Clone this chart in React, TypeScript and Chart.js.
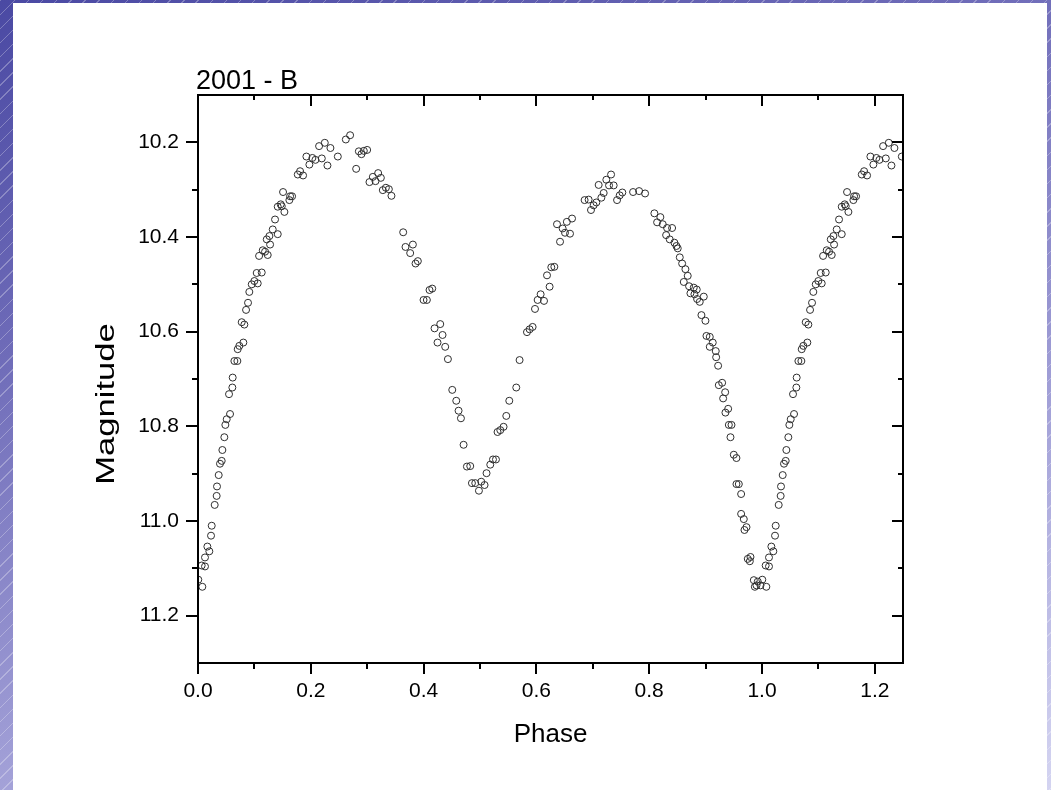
import React, { useEffect, useRef } from "react";
import { Chart, registerables } from "chart.js";

Chart.register(...registerables);

// Phase-folded light curve (phase 0..1); points with phase < 0.25 are repeated at phase + 1
const phase: number[] = [
  0.0005, 0.0077, 0.0065, 0.0124, 0.0124, 0.0166, 0.0201, 0.0231, 0.0243, 0.0296,
  0.0331, 0.0337, 0.0367, 0.039, 0.042, 0.0432, 0.0467, 0.0485, 0.0509, 0.0568,
  0.055, 0.0609, 0.0615, 0.0645, 0.0698, 0.0704, 0.0733, 0.0804, 0.0775, 0.0822,
  0.0852, 0.0887, 0.091, 0.0953, 0.0999, 0.1059, 0.1041, 0.113, 0.1083, 0.1148,
  0.1189, 0.1236, 0.1219, 0.1278, 0.1266, 0.1325, 0.1414, 0.1366, 0.1414, 0.1467,
  0.1485, 0.1532, 0.1508, 0.162, 0.1633, 0.1668, 0.1769, 0.181, 0.1863, 0.1922,
  0.1975, 0.2028, 0.2082, 0.2147, 0.2195, 0.2248, 0.2295, 0.2348, 0.2479, 0.2621,
  0.2697, 0.2804, 0.2852, 0.2898, 0.294, 0.2999, 0.304, 0.31, 0.3147, 0.3194,
  0.3242, 0.3277, 0.3331, 0.3384, 0.343, 0.3638, 0.3679, 0.3762, 0.381, 0.3857,
  0.3898, 0.3999, 0.4058, 0.4105, 0.4153, 0.4194, 0.4295, 0.4247, 0.4336, 0.4383,
  0.4431, 0.4508, 0.4579, 0.462, 0.4662, 0.4709, 0.4768, 0.4827, 0.4857, 0.4916,
  0.4981, 0.5022, 0.5081, 0.5116, 0.5182, 0.523, 0.5283, 0.5311, 0.536, 0.5418,
  0.5466, 0.5519, 0.5643, 0.5702, 0.5833, 0.588, 0.5933, 0.5975, 0.6022, 0.6075,
  0.6135, 0.6234, 0.6188, 0.6264, 0.6318, 0.6419, 0.6365, 0.6465, 0.6507, 0.6596,
  0.654, 0.6632, 0.6855, 0.6926, 0.6968, 0.7015, 0.7063, 0.7152, 0.7104, 0.7193,
  0.724, 0.7288, 0.7324, 0.737, 0.743, 0.7477, 0.7524, 0.7714, 0.7821, 0.7927,
  0.8092, 0.8198, 0.814, 0.824, 0.83, 0.8317, 0.8406, 0.8364, 0.8447, 0.8483,
  0.8506, 0.8542, 0.8584, 0.8642, 0.8683, 0.8613, 0.8707, 0.879, 0.8843, 0.8731,
  0.8802, 0.8849, 0.8896, 0.8968, 0.8926, 0.8997, 0.9015, 0.9074, 0.9127, 0.9074,
  0.918, 0.9187, 0.9222, 0.9234, 0.9293, 0.9347, 0.9311, 0.94, 0.9352, 0.9412,
  0.9459, 0.9441, 0.95, 0.9547, 0.9547, 0.9589, 0.963, 0.963, 0.9677, 0.9725,
  0.9689, 0.9748, 0.9796, 0.9784, 0.9855, 0.9925, 0.9902, 0.9973, 0.9873,
];

const magnitude: number[] = [
  11.124, 11.139, 11.094, 11.096, 11.077, 11.054, 11.064, 11.031, 11.010, 10.966,
  10.947, 10.927, 10.903, 10.879, 10.873, 10.850, 10.823, 10.797, 10.785, 10.774,
  10.732, 10.718, 10.697, 10.662, 10.662, 10.637, 10.630, 10.623, 10.580, 10.585,
  10.554, 10.539, 10.516, 10.500, 10.493, 10.498, 10.476, 10.475, 10.440, 10.428,
  10.431, 10.438, 10.405, 10.416, 10.398, 10.384, 10.394, 10.363, 10.336, 10.331,
  10.335, 10.347, 10.305, 10.322, 10.314, 10.314, 10.268, 10.261, 10.270, 10.230,
  10.247, 10.233, 10.237, 10.208, 10.234, 10.201, 10.249, 10.212, 10.230, 10.194,
  10.185, 10.256, 10.219, 10.225, 10.218, 10.216, 10.284, 10.273, 10.282, 10.265,
  10.275, 10.301, 10.296, 10.299, 10.313, 10.390, 10.421, 10.434, 10.416, 10.456,
  10.451, 10.533, 10.533, 10.512, 10.509, 10.593, 10.584, 10.623, 10.607, 10.632,
  10.658, 10.723, 10.746, 10.767, 10.783, 10.839, 10.885, 10.884, 10.920, 10.920,
  10.936, 10.917, 10.924, 10.899, 10.881, 10.870, 10.870, 10.812, 10.808, 10.801,
  10.778, 10.746, 10.718, 10.660, 10.601, 10.595, 10.590, 10.552, 10.533, 10.521,
  10.535, 10.505, 10.481, 10.464, 10.463, 10.410, 10.373, 10.382, 10.391, 10.393,
  10.368, 10.361, 10.322, 10.321, 10.343, 10.333, 10.327, 10.317, 10.290, 10.307,
  10.279, 10.291, 10.268, 10.291, 10.322, 10.312, 10.306, 10.305, 10.303, 10.308,
  10.350, 10.358, 10.369, 10.373, 10.396, 10.381, 10.381, 10.405, 10.412, 10.419,
  10.424, 10.443, 10.456, 10.468, 10.482, 10.495, 10.504, 10.507, 10.511, 10.519,
  10.521, 10.531, 10.537, 10.526, 10.565, 10.577, 10.609, 10.611, 10.623, 10.632,
  10.641, 10.654, 10.672, 10.713, 10.708, 10.728, 10.741, 10.763, 10.771, 10.797,
  10.797, 10.823, 10.860, 10.867, 10.922, 10.922, 10.943, 10.985, 10.996, 11.013,
  11.019, 11.080, 11.076, 11.085, 11.125, 11.128, 11.136, 11.136, 11.139,
];

const repeatBelow = 0.25;

const xTickLabels: number[] = [0, 0.2, 0.4, 0.6, 0.8, 1.0, 1.2];
const xMinorTicks: number[] = [0.1, 0.3, 0.5, 0.7, 0.9, 1.1];
const yTickLabels: number[] = [10.2, 10.4, 10.6, 10.8, 11.0, 11.2];
const yMinorTicks: number[] = [10.3, 10.5, 10.7, 10.9, 11.1];

const FONT = '"Liberation Sans", Arial, Helvetica, sans-serif';

const framePlugin = {
  id: "originFrame",
  afterDatasetsDraw(chart: any) {
    const { ctx, chartArea: a, scales } = chart;
    const xs = scales.x;
    const ys = scales.y;
    ctx.save();
    ctx.strokeStyle = "#000";
    ctx.lineWidth = 2;
    ctx.lineCap = "butt";
    ctx.strokeRect(a.left, a.top, a.right - a.left, a.bottom - a.top);
    ctx.beginPath();
    const seg = (x1: number, y1: number, x2: number, y2: number) => {
      ctx.moveTo(x1, y1);
      ctx.lineTo(x2, y2);
    };
    for (const v of xTickLabels) {
      const px = Math.round(xs.getPixelForValue(v));
      seg(px, a.bottom, px, a.bottom + 11);
      seg(px, a.top, px, a.top + 11);
    }
    for (const v of xMinorTicks) {
      const px = Math.round(xs.getPixelForValue(v));
      seg(px, a.bottom, px, a.bottom + 6);
      seg(px, a.top, px, a.top + 5);
    }
    for (const v of yTickLabels) {
      const py = Math.round(ys.getPixelForValue(v));
      seg(a.left - 12, py, a.left, py);
      seg(a.right - 11, py, a.right, py);
    }
    for (const v of yMinorTicks) {
      const py = Math.round(ys.getPixelForValue(v));
      seg(a.left - 6, py, a.left, py);
      seg(a.right - 5, py, a.right, py);
    }
    ctx.stroke();

    // graph title
    ctx.fillStyle = "#000";
    ctx.font = `27px ${FONT}`;
    ctx.textAlign = "left";
    ctx.textBaseline = "alphabetic";
    ctx.fillText("2001 - B", a.left - 2, a.top - 6);

    // y-axis title (stretched, as in the reference)
    ctx.save();
    ctx.translate(a.left - 84, 404);
    ctx.rotate(-Math.PI / 2);
    ctx.scale(1.33, 1);
    ctx.font = `26px ${FONT}`;
    ctx.textAlign = "center";
    ctx.textBaseline = "alphabetic";
    ctx.fillText("Magnitude", 0, 0);
    ctx.restore();

    ctx.restore();
  },
};

export default function App() {
  const canvasRef = useRef<HTMLCanvasElement | null>(null);

  useEffect(() => {
    if (!canvasRef.current) return;
    const points = phase.map((p, i) => ({ x: p, y: magnitude[i] }));
    const repeated = phase
      .map((p, i) => ({ x: p + 1, y: magnitude[i], keep: p < repeatBelow }))
      .filter((d) => d.keep)
      .map((d) => ({ x: d.x, y: d.y }));

    const chart = new Chart(canvasRef.current, {
      type: "scatter",
      data: {
        datasets: [
          {
            data: [...points, ...repeated],
            pointStyle: "circle",
            pointRadius: 3.5,
            pointBorderWidth: 1,
            pointBorderColor: "#2e2e2e",
            pointBackgroundColor: "rgba(255,255,255,0)",
            clip: 0,
          } as any,
        ],
      },
      options: {
        animation: false,
        responsive: false,
        devicePixelRatio: 1,
        layout: { padding: { left: 0, right: 148, top: 95, bottom: 0 } },
        plugins: {
          legend: { display: false },
          tooltip: { enabled: false },
          title: { display: false },
        },
        scales: {
          x: {
            type: "linear",
            min: 0,
            max: 1.25,
            grid: { display: false, drawTicks: false },
            border: { display: false },
            afterBuildTicks: (s: any) => {
              s.ticks = xTickLabels.map((v) => ({ value: v }));
            },
            afterFit: (s: any) => {
              s.height = 127;
            },
            ticks: {
              padding: 16,
              color: "#000",
              maxRotation: 0,
              autoSkip: false,
              font: { family: FONT, size: 21 },
              callback: (v: any) => Number(v).toFixed(1),
            },
            title: {
              display: true,
              text: "Phase",
              color: "#000",
              font: { family: FONT, size: 26 },
              padding: { top: 0, bottom: 40 },
            },
          },
          y: {
            type: "linear",
            min: 10.1,
            max: 11.3,
            reverse: true,
            grid: { display: false, drawTicks: false },
            border: { display: false },
            afterBuildTicks: (s: any) => {
              s.ticks = yTickLabels.map((v) => ({ value: v }));
            },
            afterFit: (s: any) => {
              s.width = 198;
            },
            ticks: {
              padding: 19,
              color: "#000",
              autoSkip: false,
              font: { family: FONT, size: 21 },
              callback: (v: any) => Number(v).toFixed(1),
            },
          },
        },
      },
      plugins: [framePlugin],
    });
    return () => chart.destroy();
  }, []);

  return (
    <div
      style={{
        position: "fixed",
        left: 0,
        top: 0,
        width: 1051,
        height: 790,
        overflow: "hidden",
        background:
          "repeating-linear-gradient(135deg, rgba(255,255,255,0.28) 0px, rgba(255,255,255,0.28) 1px, rgba(255,255,255,0) 1px, rgba(255,255,255,0) 10px), linear-gradient(160deg, #4a49a3 0%, #6e6bb8 30%, #a09ed6 65%, #d4d4f1 100%)",
      }}
    >
      <div
        style={{
          position: "absolute",
          left: 13,
          top: 3,
          width: 1034,
          height: 787,
          background: "#fff",
        }}
      />
      <canvas
        ref={canvasRef}
        width={1051}
        height={790}
        style={{ position: "absolute", left: 0, top: 0, display: "block" }}
      />
    </div>
  );
}
